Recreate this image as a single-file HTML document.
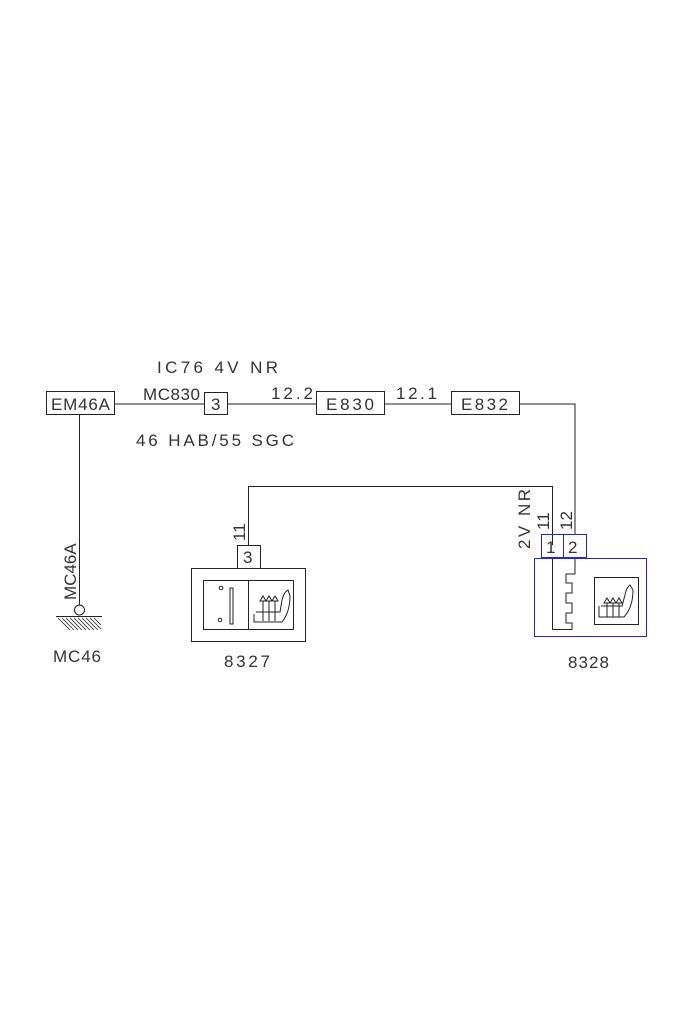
<!DOCTYPE html>
<html><head><meta charset="utf-8"><style>
html,body{margin:0;padding:0;background:#fff;}
svg{display:block;}
text{font-family:"Liberation Sans",sans-serif;fill:#333;}
</style></head><body>
<svg width="700" height="1020" viewBox="0 0 700 1020" xmlns="http://www.w3.org/2000/svg">
<g stroke="#222" stroke-width="1" fill="none">
<line x1="114" y1="404" x2="204" y2="404"/>
<line x1="228" y1="404" x2="316" y2="404"/>
<line x1="384" y1="404" x2="451" y2="404"/>
<polyline points="519,404 575,404 575,534"/>
<rect x="46.5" y="391.5" width="68" height="23"/>
<rect x="204.5" y="392.5" width="23" height="22"/>
<rect x="316.5" y="391.5" width="68" height="23"/>
<rect x="451.5" y="391.5" width="68" height="23"/>
<line x1="79.5" y1="415" x2="79.5" y2="605"/>
<circle cx="79.5" cy="610" r="5"/>
<line x1="56" y1="616.5" x2="102" y2="616.5"/>
<g stroke-width="0.8">
<line x1="58" y1="618" x2="70" y2="630"/><line x1="62" y1="618" x2="74" y2="630"/>
<line x1="66" y1="618" x2="78" y2="630"/><line x1="70" y1="618" x2="82" y2="630"/>
<line x1="74" y1="618" x2="86" y2="630"/><line x1="78" y1="618" x2="90" y2="630"/>
<line x1="82" y1="618" x2="94" y2="630"/><line x1="86" y1="618" x2="98" y2="630"/>
<line x1="90" y1="618" x2="101" y2="629"/><line x1="94" y1="618" x2="101" y2="625"/>
</g>
<polyline points="552.5,545 552.5,486.5 248.5,486.5 248.5,545"/>
<rect x="237.5" y="545.5" width="23" height="23"/>
<rect x="191.5" y="568.5" width="114" height="73"/>
<rect x="203.5" y="580.5" width="90" height="49"/>
<line x1="248.5" y1="580" x2="248.5" y2="630"/>
<circle cx="221" cy="588" r="1.8"/>
<circle cx="220" cy="620" r="1.8"/>
<rect x="230" y="588" width="3" height="36"/>
<path d="M254 614 L254 622 L282 622 Q290 612 290 596 L288 590 Q284 592 282 600 L280 612 L256 612"/>
<path d="M260 601 L263 596 L266 601 Z M266 601 L269 596 L272 601 Z M272 601 L275 596 L278 601 Z"/>
<path d="M263 601 L263 621 M269 601 L269 621 M275 601 L275 621"/>
<polyline points="552.5,558 552.5,629.5 572,629.5 572,623 566,623 566,613 572,613 572,603 566,603 566,593 572,593 572,583 566,583 566,574 575,574 575,558"/>
<rect x="594.5" y="577.5" width="44" height="47"/>
<path d="M599 606 L599 617 L624 617 Q633 607 633 590 L630 585 Q626 588 625 595 L622 606 L601 606"/>
<path d="M604 603 L607 598 L610 603 Z M610 603 L613 598 L616 603 Z M616 603 L619 598 L622 603 Z"/>
<path d="M607 603 L607 617 M613 603 L613 617 M619 603 L619 617"/>
</g>
<g stroke="#2222ee" stroke-width="1" fill="none">
<rect x="541.5" y="534.5" width="22" height="23"/>
<rect x="563.5" y="534.5" width="23" height="23"/>
<rect x="534.5" y="558.5" width="112" height="78"/>
</g>
<g font-size="17" lengthAdjust="spacing">
<text x="51" y="410" textLength="59">EM46A</text>
<text x="326" y="410" textLength="48">E830</text>
<text x="461" y="410" textLength="47">E832</text>
<text x="211" y="410">3</text>
<text x="243" y="563">3</text>
<text x="546" y="553">1</text>
<text x="568" y="553">2</text>
<text x="157" y="373" textLength="121">IC76  4V  NR</text>
<text x="143" y="400" textLength="57">MC830</text>
<text x="271" y="399" textLength="42">12.2</text>
<text x="396" y="399" textLength="41">12.1</text>
<text x="136" y="446" textLength="158">46 HAB/55 SGC</text>
<text x="53" y="662" textLength="48">MC46</text>
<text x="224" y="667" textLength="46">8327</text>
<text x="568" y="668" textLength="41">8328</text>
<text transform="translate(76,600) rotate(-90)">MC46A</text>
<text transform="translate(245,541) rotate(-90)">11</text>
<text transform="translate(530,549) rotate(-90)" textLength="60">2V NR</text>
<text transform="translate(549,530) rotate(-90)">11</text>
<text transform="translate(572,530) rotate(-90)">12</text>
</g>
</svg>
</body></html>
